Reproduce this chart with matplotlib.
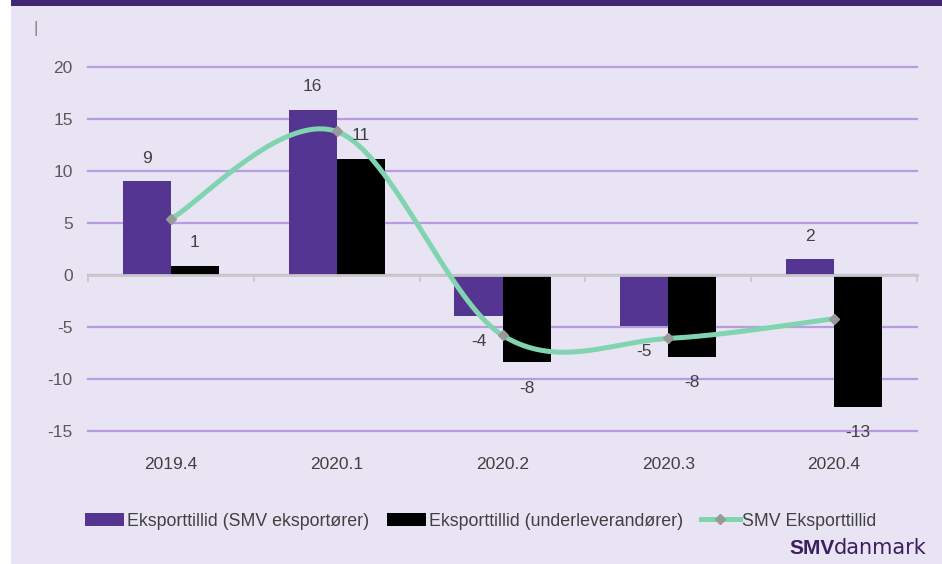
import numpy as np
import matplotlib.pyplot as plt
from matplotlib.patches import Rectangle
from matplotlib.lines import Line2D

quarters = ['2019.4', '2020.1', '2020.2', '2020.3', '2020.4']
smv_eksport = [9.0, 15.9, -3.9, -4.9, 1.5]
underlev = [0.9, 11.2, -8.4, -7.9, -12.7]
smv_tillid = [5.4, 13.8, -5.8, -6.1, -4.2]
labels_smv = ['9', '16', '-4', '-5', '2']
labels_under = ['1', '11', '-8', '-8', '-13']

bg = '#E9E4F4'
purple = '#553592'
green = '#80D4B0'
txt = '#404040'

plt.rcParams['font.family'] = ['Liberation Sans', 'DejaVu Sans']
plt.rcParams['axes.unicode_minus'] = False


def smooth(xs, ys, n=40):
    # catmull-rom style bezier, like excel's smoothed line
    xs = np.asarray(xs, float)
    ys = np.asarray(ys, float)
    px = np.concatenate([[xs[0]], xs, [xs[-1]]])
    py = np.concatenate([[ys[0]], ys, [ys[-1]]])
    outx, outy = [], []
    t = np.linspace(0, 1, n)
    for i in range(1, len(px) - 2):
        p0 = np.array([px[i], py[i]])
        p3 = np.array([px[i + 1], py[i + 1]])
        c1 = p0 + (np.array([px[i + 1], py[i + 1]]) - np.array([px[i - 1], py[i - 1]])) / 6
        c2 = p3 - (np.array([px[i + 2], py[i + 2]]) - np.array([px[i], py[i]])) / 6
        b = (np.outer((1 - t) ** 3, p0) + np.outer(3 * (1 - t) ** 2 * t, c1)
             + np.outer(3 * (1 - t) * t ** 2, c2) + np.outer(t ** 3, p3))
        outx.extend(b[:, 0])
        outy.extend(b[:, 1])
    return np.array(outx), np.array(outy)


fig = plt.figure(figsize=(9.42, 5.64), dpi=100)
fig.patch.set_facecolor('white')
fig.patches.append(Rectangle((11 / 942, 0), 1, 1, transform=fig.transFigure,
                             facecolor=bg, edgecolor='none', zorder=-10))
fig.patches.append(Rectangle((11 / 942, 1 - 6 / 564), 1, 6 / 564, transform=fig.transFigure,
                             facecolor='#412672', edgecolor='none', zorder=-9))

ax = fig.add_axes([88 / 942, 1 - 431 / 564, (917 - 88) / 942, (431 - 67) / 564])
ax.set_facecolor('none')

x = np.arange(len(quarters))
w = 0.29
b1 = ax.bar(x - w / 2, smv_eksport, w, color=purple, zorder=3,
            label='Eksporttillid (SMV eksportører)')
b2 = ax.bar(x + w / 2, underlev, w, color='black', zorder=3,
            label='Eksporttillid (underleverandører)')

sx, sy = smooth(x, smv_tillid)
ax.plot(sx, sy, color=green, lw=3.6, zorder=4, solid_capstyle='round')
ax.plot(x, smv_tillid, ls='none', marker='D', ms=5.5, color='#999999',
        markeredgecolor='#999999', zorder=5)

for bars, labs in [(b1, labels_smv), (b2, labels_under)]:
    for r, lab in zip(bars, labs):
        v = r.get_height()
        cx = r.get_x() + r.get_width() / 2
        off = 16.5 if v >= 0 else -18.5
        ax.annotate(lab, (cx, v), xytext=(0, off), textcoords='offset points',
                    ha='center', va='center', fontsize=12.5, color=txt, zorder=6)

ax.set_xlim(-0.5, 4.5)
ax.set_ylim(-15, 20)
ax.set_yticks(np.arange(-15, 21, 5))
ax.grid(axis='y', color='#B89CE0', lw=1.6, zorder=0)
for gl in ax.get_ygridlines():
    gl.set_clip_on(False)
ax.set_axisbelow(True)
for s in ax.spines.values():
    s.set_visible(False)
ax.set_xticks(x)
ax.set_xticklabels(quarters)
ax.tick_params(axis='x', length=0, pad=19, labelsize=12.5, labelcolor=txt)
ax.tick_params(axis='y', length=0, pad=11, labelsize=12.5, labelcolor='#595959')

sec = ax.secondary_xaxis(15 / 35)
sec.set_xticks(np.arange(-0.5, 4.6, 1))
sec.set_xticklabels([])
sec.tick_params(direction='out', length=5, width=1.3, color='#C8C8C8')
sec.spines['bottom'].set_color('#C8C8C8')
sec.spines['bottom'].set_linewidth(2)
sec.set_zorder(3.5)

line_handle = Line2D([], [], color=green, lw=3.6, marker='D', ms=5,
                     markerfacecolor='#999999', markeredgecolor='#999999')
fig.legend([b1, b2, line_handle],
           ['Eksporttillid (SMV eksportører)', 'Eksporttillid (underleverandører)', 'SMV Eksporttillid'],
           loc='center', bbox_to_anchor=(481 / 942, 1 - 521 / 564), ncol=3, frameon=False,
           fontsize=12.8, handlelength=2.2, handleheight=0.75, handletextpad=0.15,
           columnspacing=1.0, labelcolor=txt)

fig.text(36 / 942, 1 - 28 / 564, '|', color='#808080', fontsize=12, ha='center', va='center')
fig.text(835 / 942, 1 - 548 / 564, 'SMV', color='#3B1F5E', fontsize=15, fontweight='heavy',
         ha='right', va='center')
fig.text(834 / 942, 1 - 548 / 564, 'danmark', color='#3B1F5E', fontsize=15,
         family='DejaVu Sans', ha='left', va='center')

plt.savefig('out.png', dpi=100)
